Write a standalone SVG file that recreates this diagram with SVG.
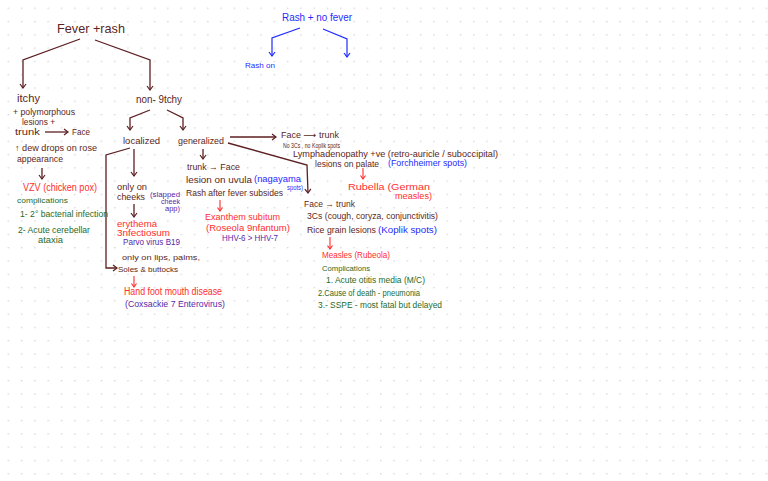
<svg xmlns="http://www.w3.org/2000/svg" width="768" height="481" viewBox="0 0 768 481">
<defs>
<pattern id="dots" patternUnits="userSpaceOnUse" x="0" y="0" width="13.3" height="13.3">
<circle cx="8.4" cy="8.3" r="0.65" fill="#c4c4c4"/>
</pattern>
<marker id="am" markerUnits="userSpaceOnUse" markerWidth="10" markerHeight="10" refX="0" refY="0" viewBox="-6 -5 8 10" orient="auto">
<path d="M-4,-3 L0,0 L-4,3" fill="none" stroke="#5c1f22" stroke-width="1.2"/>
</marker>
<marker id="ab" markerUnits="userSpaceOnUse" markerWidth="10" markerHeight="10" refX="0" refY="0" viewBox="-6 -5 8 10" orient="auto">
<path d="M-4,-3 L0,0 L-4,3" fill="none" stroke="#1f2bff" stroke-width="1.2"/>
</marker>
<marker id="ar" markerUnits="userSpaceOnUse" markerWidth="10" markerHeight="10" refX="0" refY="0" viewBox="-6 -5 8 10" orient="auto">
<path d="M-3.5,-2.5 L0,0 L-3.5,2.5" fill="none" stroke="#ff2d2d" stroke-width="1.1"/>
</marker>
</defs>
<style>
text{font-family:"Liberation Sans","DejaVu Sans",sans-serif;font-size:9px}
.m{fill:#5c1f22}.r{fill:#ff2d2d}.g{fill:#1f6b1f}.p{fill:#5a1fa8}.b{fill:#1f2bff}
.cm{fill:none;stroke:#5c1f22;stroke-width:1.3}
.cb{fill:none;stroke:#1f2bff;stroke-width:1.2}
.cr{fill:none;stroke:#ff2d2d;stroke-width:1.1}
</style>
<rect width="768" height="481" fill="#ffffff"/>
<rect width="768" height="481" fill="url(#dots)"/>

<g id="connectors">
<path class="cm" d="M80,39 L23,60 L23,88" marker-end="url(#am)"/>
<path class="cm" d="M95,40 L150,60 L150,90" marker-end="url(#am)"/>
<path class="cm" d="M150,110 L130,118 L130,130" marker-end="url(#am)"/>
<path class="cm" d="M167,110 L183,118 L183,130" marker-end="url(#am)"/>
<path class="cm" d="M134,149 L134,176" marker-end="url(#am)"/>
<path class="cm" d="M134,204 L134,217" marker-end="url(#am)"/>
<path class="cm" d="M130,148 L106,155 L106,268 L117,268" marker-end="url(#am)"/>
<path class="cm" d="M203,149 L203,159" marker-end="url(#am)"/>
<path class="cm" d="M230,137 L276,137" marker-end="url(#am)"/>
<path class="cm" d="M228,143 L307,165 L308,193" marker-end="url(#am)"/>
<path class="cm" d="M45,132 L68,132" marker-end="url(#am)"/>
<path class="cm" d="M42,168 L42,179" marker-end="url(#am)"/>
<path class="cb" d="M300,28 L272,38 L272,56" marker-end="url(#ab)"/>
<path class="cb" d="M323,29 L347,39 L347,57" marker-end="url(#ab)"/>
<path class="cr" d="M220,200 L220,211" marker-end="url(#ar)"/>
<path class="cr" d="M134,276 L134,287" marker-end="url(#ar)"/>
<path class="cr" d="M363,168 L363,179" marker-end="url(#ar)"/>
<path class="cr" d="M330,237 L330,249" marker-end="url(#ar)"/>
</g>

<g id="fever-rash"><text class="m" x="57" y="33" style="font-size:13px" textLength="68" lengthAdjust="spacingAndGlyphs">Fever +rash</text></g>

<g id="itchy">
<text class="m" x="17" y="102" style="font-size:10px" textLength="23" lengthAdjust="spacingAndGlyphs">itchy</text>
<text class="m" x="13" y="115" textLength="62" lengthAdjust="spacingAndGlyphs">+ polymorphous</text>
<text class="m" x="22" y="125" textLength="33" lengthAdjust="spacingAndGlyphs">lesions +</text>
<text class="m" x="15" y="135" textLength="25" lengthAdjust="spacingAndGlyphs">trunk</text>
<text class="m" x="72" y="135" textLength="18" lengthAdjust="spacingAndGlyphs">Face</text>
<text class="m" x="15" y="151" textLength="82" lengthAdjust="spacingAndGlyphs">↑ dew drops on rose</text>
<text class="m" x="17" y="162" textLength="46" lengthAdjust="spacingAndGlyphs">appearance</text>
</g>

<g id="vzv">
<text class="r" x="23" y="191" style="font-size:10px" textLength="74" lengthAdjust="spacingAndGlyphs">VZV (chicken pox)</text>
<text class="g" x="17" y="203" style="font-size:8px" textLength="51" lengthAdjust="spacingAndGlyphs">complications</text>
<text class="g" x="20" y="217" textLength="88" lengthAdjust="spacingAndGlyphs">1- 2° bacterial infection</text>
<text class="g" x="18" y="233" textLength="72" lengthAdjust="spacingAndGlyphs">2- Acute cerebellar</text>
<text class="g" x="38" y="243" textLength="25" lengthAdjust="spacingAndGlyphs">ataxia</text>
</g>

<g id="non-itchy"><text class="m" x="136" y="103" style="font-size:10px" textLength="46" lengthAdjust="spacingAndGlyphs">non- 9tchy</text></g>

<g id="localized"><text class="m" x="123" y="144" textLength="37" lengthAdjust="spacingAndGlyphs">localized</text></g>
<g id="generalized"><text class="m" x="178" y="144" textLength="46" lengthAdjust="spacingAndGlyphs">generalized</text></g>

<g id="erythema">
<text class="m" x="117" y="190" textLength="30" lengthAdjust="spacingAndGlyphs">only on</text>
<text class="m" x="117" y="200" textLength="28" lengthAdjust="spacingAndGlyphs">cheeks</text>
<text class="p" x="150" y="197" style="font-size:8px" textLength="30" lengthAdjust="spacingAndGlyphs">(slapped</text>
<text class="p" x="161" y="204" style="font-size:7px" textLength="19" lengthAdjust="spacingAndGlyphs">cheek</text>
<text class="p" x="165" y="211" style="font-size:7px" textLength="15" lengthAdjust="spacingAndGlyphs">app)</text>
<text class="r" x="117" y="227" textLength="40" lengthAdjust="spacingAndGlyphs">erythema</text>
<text class="r" x="117" y="236" textLength="53" lengthAdjust="spacingAndGlyphs">3nfectiosum</text>
<text class="p" x="123" y="245" textLength="57" lengthAdjust="spacingAndGlyphs">Parvo virus B19</text>
</g>

<g id="hfmd">
<text class="m" x="122" y="260" style="font-size:8px" textLength="78" lengthAdjust="spacingAndGlyphs">only on lips, palms,</text>
<text class="m" x="118" y="272" style="font-size:8px" textLength="60" lengthAdjust="spacingAndGlyphs">Soles &amp; buttocks</text>
<text class="r" x="124" y="295" style="font-size:10px" textLength="98" lengthAdjust="spacingAndGlyphs">Hand foot mouth disease</text>
<text class="p" x="125" y="307" style="font-size:9.5px" textLength="100" lengthAdjust="spacingAndGlyphs">(Coxsackie 7 Enterovirus)</text>
</g>

<g id="exanthem">
<text class="m" x="187" y="170" textLength="53" lengthAdjust="spacingAndGlyphs">trunk → Face</text>
<text class="m" x="186" y="183" textLength="66" lengthAdjust="spacingAndGlyphs">lesion on uvula</text>
<text class="b" x="254" y="182" textLength="47" lengthAdjust="spacingAndGlyphs">(nagayama</text>
<text class="b" x="287" y="190" style="font-size:7px" textLength="16" lengthAdjust="spacingAndGlyphs">spots)</text>
<text class="m" x="186" y="196" textLength="97" lengthAdjust="spacingAndGlyphs">Rash after fever subsides</text>
<text class="r" x="205" y="220" textLength="75" lengthAdjust="spacingAndGlyphs">Exanthem subitum</text>
<text class="r" x="206" y="231" style="font-size:9.5px" textLength="84" lengthAdjust="spacingAndGlyphs">(Roseola 9nfantum)</text>
<text class="p" x="222" y="241" style="font-size:8.5px" textLength="56" lengthAdjust="spacingAndGlyphs">HHV-6 &gt; HHV-7</text>
</g>

<g id="rubella">
<text class="m" x="281" y="138" textLength="58" lengthAdjust="spacingAndGlyphs">Face ⟶ trunk</text>
<text class="m" x="283" y="148" style="font-size:8px" textLength="57" lengthAdjust="spacingAndGlyphs">No 3Cs , no Koplik spots</text>
<text class="m" x="293" y="157" style="font-size:8.5px" textLength="205" lengthAdjust="spacingAndGlyphs">Lymphadenopathy +ve (retro-auricle / suboccipital)</text>
<text class="m" x="315" y="167" textLength="64" lengthAdjust="spacingAndGlyphs">lesions on palate</text>
<text class="b" x="388" y="166" textLength="79" lengthAdjust="spacingAndGlyphs">(Forchheimer spots)</text>
<text class="r" x="348" y="190" style="font-size:8.5px" textLength="82" lengthAdjust="spacingAndGlyphs">Rubella (German</text>
<text class="r" x="395" y="199" style="font-size:8.5px" textLength="37" lengthAdjust="spacingAndGlyphs">measles)</text>
</g>

<g id="measles">
<text class="m" x="304" y="207" textLength="51" lengthAdjust="spacingAndGlyphs">Face → trunk</text>
<text class="m" x="307" y="219" textLength="131" lengthAdjust="spacingAndGlyphs">3Cs (cough, coryza, conjunctivitis)</text>
<text class="m" x="307" y="233" textLength="69" lengthAdjust="spacingAndGlyphs">Rice grain lesions</text>
<text class="b" x="378" y="233" textLength="59" lengthAdjust="spacingAndGlyphs">(Koplik spots)</text>
<text class="r" x="322" y="258" textLength="68" lengthAdjust="spacingAndGlyphs">Measles (Rubeola)</text>
<text class="g" x="322" y="271" style="font-size:8px" textLength="48" lengthAdjust="spacingAndGlyphs">Complications</text>
<text class="g" x="326" y="283" textLength="99" lengthAdjust="spacingAndGlyphs">1. Acute otitis media (M/C)</text>
<text class="g" x="318" y="296" style="font-size:8.5px" textLength="102" lengthAdjust="spacingAndGlyphs">2.Cause of death - pneumonia</text>
<text class="g" x="318" y="308" style="font-size:8.5px" textLength="124" lengthAdjust="spacingAndGlyphs">3.- SSPE - most fatal but delayed</text>
</g>

<g id="rash-no-fever">
<text class="b" x="282" y="21" style="font-size:10px" textLength="70" lengthAdjust="spacingAndGlyphs">Rash + no fever</text>
<text class="b" x="245" y="68" style="font-size:8px" textLength="30" lengthAdjust="spacingAndGlyphs">Rash on</text>
</g>
</svg>
